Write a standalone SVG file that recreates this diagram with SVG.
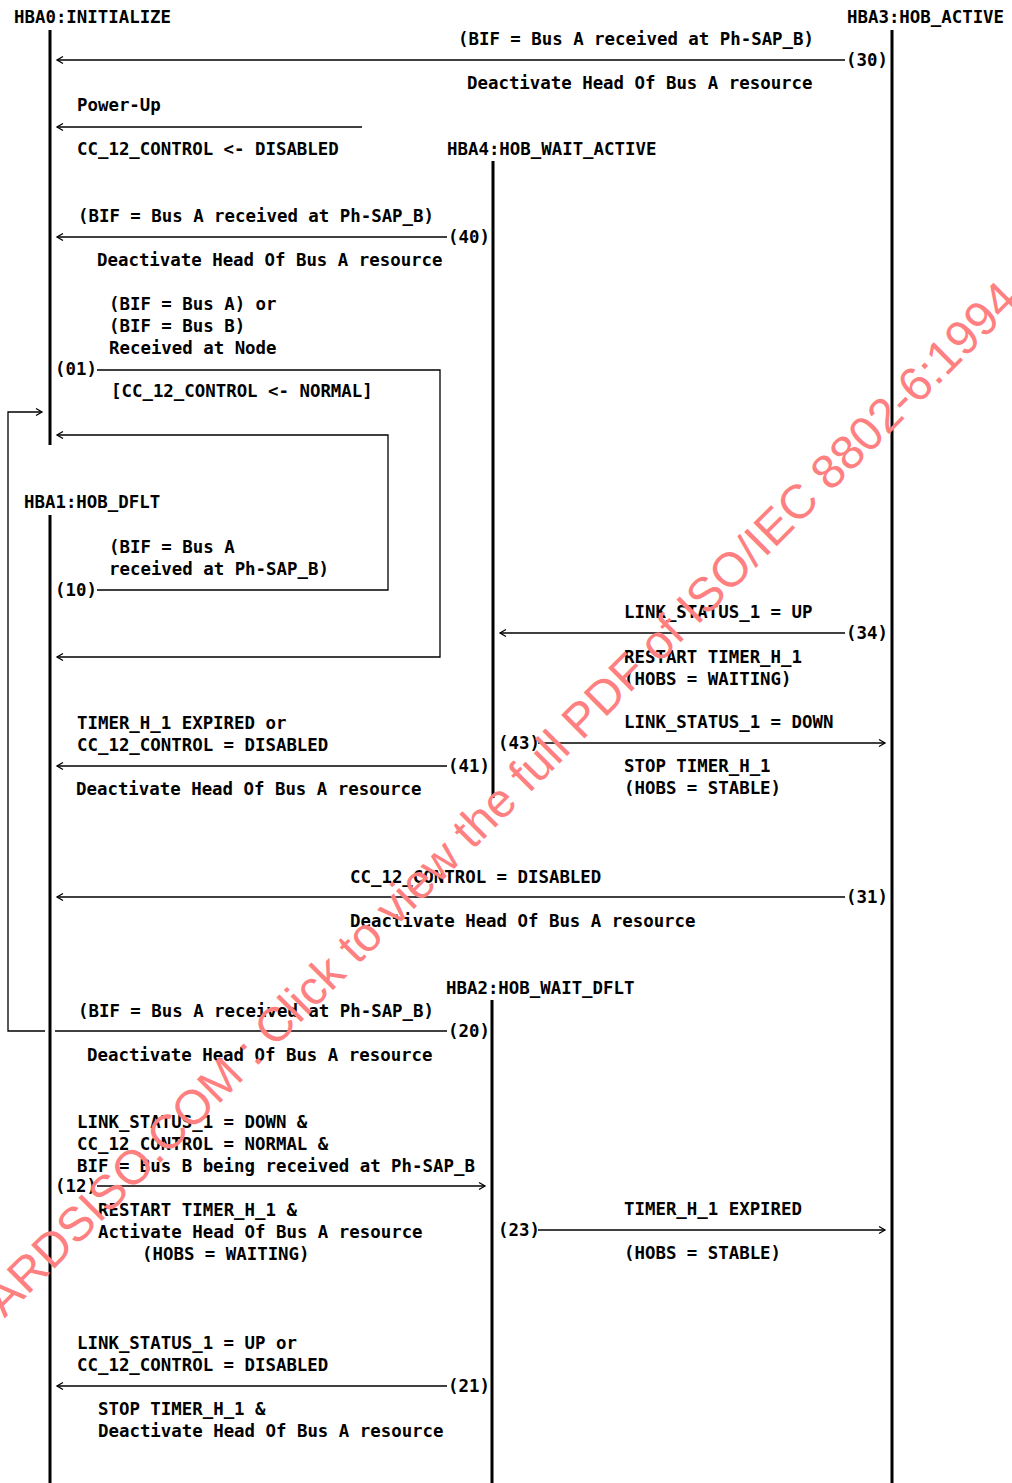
<svg xmlns="http://www.w3.org/2000/svg" width="1012" height="1483" viewBox="0 0 1012 1483">
<defs>
<style>
.t{font-family:"DejaVu Sans Mono","Liberation Mono",monospace;font-size:17.4px;font-weight:bold;fill:#000}
.ll{stroke:#000;stroke-width:3;fill:none}
.c{stroke:#000;stroke-width:1.3;fill:none}
.wm{font-family:"Liberation Sans",Arial,sans-serif;font-size:48px;fill:#ff8080}
</style>
<marker id="arr" markerUnits="userSpaceOnUse" markerWidth="12" markerHeight="12" viewBox="-8 -6 10 12" refX="0" refY="0" orient="auto" overflow="visible">
<path d="M-6,-3.5 L0,0 L-6,3.5" fill="none" stroke="#000" stroke-width="1.3"/>
</marker>
</defs>
<rect width="1012" height="1483" fill="#fff"/>

<g id="HBA0">
<text class="t" x="14" y="22.5">HBA0:INITIALIZE</text>
<line class="ll" x1="50" y1="30" x2="50" y2="445"/>
</g>
<g id="HBA3">
<text class="t" x="847" y="22.5">HBA3:HOB_ACTIVE</text>
<line class="ll" x1="892" y1="30" x2="892" y2="1483"/>
</g>
<g id="HBA4">
<text class="t" x="447" y="154.5">HBA4:HOB_WAIT_ACTIVE</text>
<line class="ll" x1="493" y1="161" x2="493" y2="798"/>
</g>
<g id="HBA1">
<text class="t" x="24" y="507.5">HBA1:HOB_DFLT</text>
<line class="ll" x1="50" y1="515" x2="50" y2="1483"/>
</g>
<g id="HBA2">
<text class="t" x="446" y="993.5">HBA2:HOB_WAIT_DFLT</text>
<line class="ll" x1="492" y1="1000" x2="492" y2="1483"/>
</g>

<g id="connectors">
<g id="t30">
<text class="t" x="458" y="44.5">(BIF = Bus A received at Ph-SAP_B)</text>
<line class="c" x1="845" y1="60" x2="57" y2="60" marker-end="url(#arr)"/>
<text class="t" x="846" y="65.5">(30)</text>
<text class="t" x="467" y="88.5">Deactivate Head Of Bus A resource</text>
</g>
<g id="tpowerup">
<text class="t" x="77" y="110.5">Power-Up</text>
<line class="c" x1="362" y1="127" x2="57" y2="127" marker-end="url(#arr)"/>
<text class="t" x="77" y="154.5">CC_12_CONTROL &lt;- DISABLED</text>
</g>
<g id="t40">
<text class="t" x="78" y="221.5">(BIF = Bus A received at Ph-SAP_B)</text>
<line class="c" x1="447" y1="237" x2="57" y2="237" marker-end="url(#arr)"/>
<text class="t" x="448" y="242.5">(40)</text>
<text class="t" x="97" y="265.5">Deactivate Head Of Bus A resource</text>
</g>
<g id="t01">
<text class="t" x="109" y="309.5">(BIF = Bus A) or</text>
<text class="t" x="109" y="331.5">(BIF = Bus B)</text>
<text class="t" x="109" y="353.5">Received at Node</text>
<text class="t" x="55" y="375">(01)</text>
<polyline class="c" points="97,370 440,370 440,657 57,657" marker-end="url(#arr)"/>
<text class="t" x="111" y="396.5">[CC_12_CONTROL &lt;- NORMAL]</text>
</g>
<g id="t10">
<text class="t" x="109" y="552.5">(BIF = Bus A</text>
<text class="t" x="109" y="574.5">received at Ph-SAP_B)</text>
<text class="t" x="55" y="595.5">(10)</text>
<polyline class="c" points="97,590 388,590 388,435 57,435" marker-end="url(#arr)"/>
</g>
<g id="t34">
<text class="t" x="624" y="617.5">LINK_STATUS_1 = UP</text>
<line class="c" x1="845" y1="633" x2="500" y2="633" marker-end="url(#arr)"/>
<text class="t" x="846" y="638.5">(34)</text>
<text class="t" x="624" y="662.5">RESTART TIMER_H_1</text>
<text class="t" x="624" y="684.5">(HOBS = WAITING)</text>
</g>
<g id="t43">
<text class="t" x="624" y="727.5">LINK_STATUS_1 = DOWN</text>
<text class="t" x="498" y="748.5">(43)</text>
<line class="c" x1="538" y1="743" x2="885" y2="743" marker-end="url(#arr)"/>
<text class="t" x="624" y="771.5">STOP TIMER_H_1</text>
<text class="t" x="624" y="793.5">(HOBS = STABLE)</text>
</g>
<g id="t41">
<text class="t" x="77" y="728.5">TIMER_H_1 EXPIRED or</text>
<text class="t" x="77" y="750.5">CC_12_CONTROL = DISABLED</text>
<line class="c" x1="447" y1="766" x2="57" y2="766" marker-end="url(#arr)"/>
<text class="t" x="448" y="771.5">(41)</text>
<text class="t" x="76" y="794.5">Deactivate Head Of Bus A resource</text>
</g>
<g id="t31">
<text class="t" x="350" y="882.5">CC_12_CONTROL = DISABLED</text>
<line class="c" x1="845" y1="897" x2="57" y2="897" marker-end="url(#arr)"/>
<text class="t" x="846" y="902.5">(31)</text>
<text class="t" x="350" y="926.5">Deactivate Head Of Bus A resource</text>
</g>
<g id="t20">
<text class="t" x="78" y="1016.5">(BIF = Bus A received at Ph-SAP_B)</text>
<line class="c" x1="447" y1="1031" x2="55" y2="1031"/>
<polyline class="c" points="45,1031 8,1031 8,412 42,412" marker-end="url(#arr)"/>
<text class="t" x="448" y="1036.5">(20)</text>
<text class="t" x="87" y="1060.5">Deactivate Head Of Bus A resource</text>
</g>
<g id="t12">
<text class="t" x="77" y="1127.5">LINK_STATUS_1 = DOWN &amp;</text>
<text class="t" x="77" y="1149.5">CC_12_CONTROL = NORMAL &amp;</text>
<text class="t" x="77" y="1171.5">BIF = Bus B being received at Ph-SAP_B</text>
<text class="t" x="55" y="1191.5">(12)</text>
<line class="c" x1="97" y1="1186" x2="485" y2="1186" marker-end="url(#arr)"/>
<text class="t" x="98" y="1215.5">RESTART TIMER_H_1 &amp;</text>
<text class="t" x="98" y="1237.5">Activate Head Of Bus A resource</text>
<text class="t" x="142" y="1259.5">(HOBS = WAITING)</text>
</g>
<g id="t23">
<text class="t" x="624" y="1214.5">TIMER_H_1 EXPIRED</text>
<text class="t" x="498" y="1235.5">(23)</text>
<line class="c" x1="538" y1="1230" x2="885" y2="1230" marker-end="url(#arr)"/>
<text class="t" x="624" y="1258.5">(HOBS = STABLE)</text>
</g>
<g id="t21">
<text class="t" x="77" y="1348.5">LINK_STATUS_1 = UP or</text>
<text class="t" x="77" y="1370.5">CC_12_CONTROL = DISABLED</text>
<line class="c" x1="447" y1="1386" x2="57" y2="1386" marker-end="url(#arr)"/>
<text class="t" x="448" y="1391.5">(21)</text>
<text class="t" x="98" y="1414.5">STOP TIMER_H_1 &amp;</text>
<text class="t" x="98" y="1436.5">Deactivate Head Of Bus A resource</text>
</g>
</g>

<text class="wm" x="-108" y="1431" transform="rotate(-45 -108 1431)">STANDARDSISO.COM : Click to view the full PDF of ISO/IEC 8802-6:1994</text>
</svg>
